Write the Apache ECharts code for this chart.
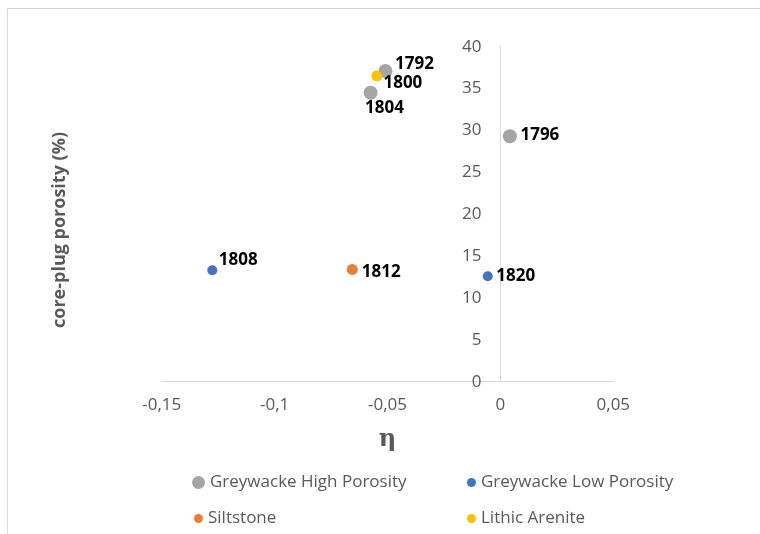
<!DOCTYPE html>
<html>
<head>
<meta charset="utf-8">
<script src="https://cdn.jsdelivr.net/npm/echarts@6/dist/echarts.min.js"></script>
<style>
  html, body { margin: 0; padding: 0; background: #ffffff; }
  #chart { width: 760px; height: 534px; }
</style>
</head>
<body>
<div id="chart"></div>
<script>
// Core-plug porosity against eta, grouped by lithology
const groupNames = ['Greywacke High Porosity', 'Greywacke Low Porosity', 'Siltstone', 'Lithic Arenite'];

const highPorEta = [-0.0509, 0.0042, -0.0575];
const highPorPhi = [37.1, 29.3, 34.5];
const highPorIds = ['1792', '1796', '1804'];

const lowPorEta = [-0.1276, -0.0056];
const lowPorPhi = [13.3, 12.6];
const lowPorIds = ['1808', '1820'];

const siltEta = [-0.0656];
const siltPhi = [13.4];
const siltIds = ['1812'];

const arenEta = [-0.0547];
const arenPhi = [36.5];
const arenIds = ['1800'];

const xTicks = [-0.15, -0.1, -0.05, 0, 0.05];
const yTicks = [0, 5, 10, 15, 20, 25, 30, 35, 40];

// label offsets (px) from each marker centre
const labelShift = {
  '1792': [29, -7], '1796': [30, -1], '1804': [14, 15], '1800': [26, 7],
  '1808': [26, -10], '1812': [29, 3], '1820': [28, 0]
};

const colors = ['#A5A5A5', '#4472C4', '#ED7D31', '#FFC000'];
const sizes = [14, 10, 11, 11];

function points(xs, ys, ids) {
  return xs.map((x, i) => ({
    value: [x, ys[i]],
    name: ids[i],
    label: { offset: labelShift[ids[i]] }
  }));
}

const groups = [
  points(highPorEta, highPorPhi, highPorIds),
  points(lowPorEta, lowPorPhi, lowPorIds),
  points(siltEta, siltPhi, siltIds),
  points(arenEta, arenPhi, arenIds)
];

const fmtComma = v => String(+v.toFixed(2)).replace('.', ',');

// plot area
const gridLeft = 161.7, gridRight = 146.7, gridTop = 46.7, gridBottom = 152.3;
const plotWidth = 760 - gridLeft - gridRight;
const xMin = xTicks[0], xMax = xTicks[xTicks.length - 1];
// the vertical axis sits where eta = 0
const yAxisShift = (0 - xMin) / (xMax - xMin) * plotWidth;

const chart = echarts.init(document.getElementById('chart'), null, { renderer: 'canvas' });

const legendSpots = [
  { left: 187, top: 469, w: 13 },
  { left: 462, top: 469, w: 9 },
  { left: 189, top: 505, w: 9 },
  { left: 462, top: 505, w: 9 }
];

chart.setOption({
  backgroundColor: '#ffffff',
  animation: false,
  graphic: [
    {
      type: 'rect', z: -10, silent: true,
      shape: { x: 7.5, y: 8.5, width: 800, height: 600 },
      style: { fill: 'none', stroke: '#d9d9d9', lineWidth: 1 }
    },
    {
      type: 'text', silent: true,
      x: 60, y: 230, rotation: Math.PI / 2,
      style: {
        text: 'core-plug porosity (%)',
        fill: '#595959',
        font: 'bold 18px "Open Sans"',
        align: 'center', verticalAlign: 'middle'
      }
    }
  ],
  legend: legendSpots.map((s, i) => ({
    data: [groupNames[i]],
    left: s.left, top: s.top,
    icon: 'circle',
    itemWidth: s.w, itemHeight: s.w,
    textStyle: { color: '#595959', fontSize: 17, fontFamily: 'Open Sans' }
  })),
  grid: { left: gridLeft, right: gridRight, top: gridTop, bottom: gridBottom, containLabel: false },
  xAxis: {
    type: 'value',
    min: xMin, max: xMax, interval: 0.05,
    name: 'η', nameLocation: 'middle', nameGap: 46,
    nameTextStyle: { color: '#595959', fontSize: 24, fontWeight: 'bold', fontFamily: 'DejaVu Serif' },
    axisLine: { show: true, onZero: false, lineStyle: { color: '#d9d9d9', width: 1 } },
    axisTick: { show: false },
    splitLine: { show: false },
    axisLabel: { color: '#595959', fontSize: 17, fontFamily: 'Open Sans', margin: 15, formatter: fmtComma }
  },
  yAxis: {
    type: 'value',
    min: yTicks[0], max: yTicks[yTicks.length - 1], interval: 5,
    offset: -yAxisShift,
    axisLine: { show: true, onZero: false, lineStyle: { color: '#d9d9d9', width: 1 } },
    axisTick: { show: false },
    splitLine: { show: false },
    axisLabel: { color: '#595959', fontSize: 17, fontFamily: 'Open Sans', margin: 19 }
  },
  series: groups.map((data, i) => ({
    name: groupNames[i],
    type: 'scatter',
    symbol: 'circle',
    symbolSize: sizes[i],
    itemStyle: { color: colors[i], opacity: 1 },
    z: i === 3 ? 5 : 2,
    label: {
      show: true,
      position: 'inside',
      formatter: p => p.name,
      color: '#000000',
      fontSize: 17,
      fontWeight: 'bold',
      fontFamily: 'Open Sans',
      textBorderWidth: 0
    },
    emphasis: { disabled: true },
    data: data
  }))
});
</script>
</body>
</html>
